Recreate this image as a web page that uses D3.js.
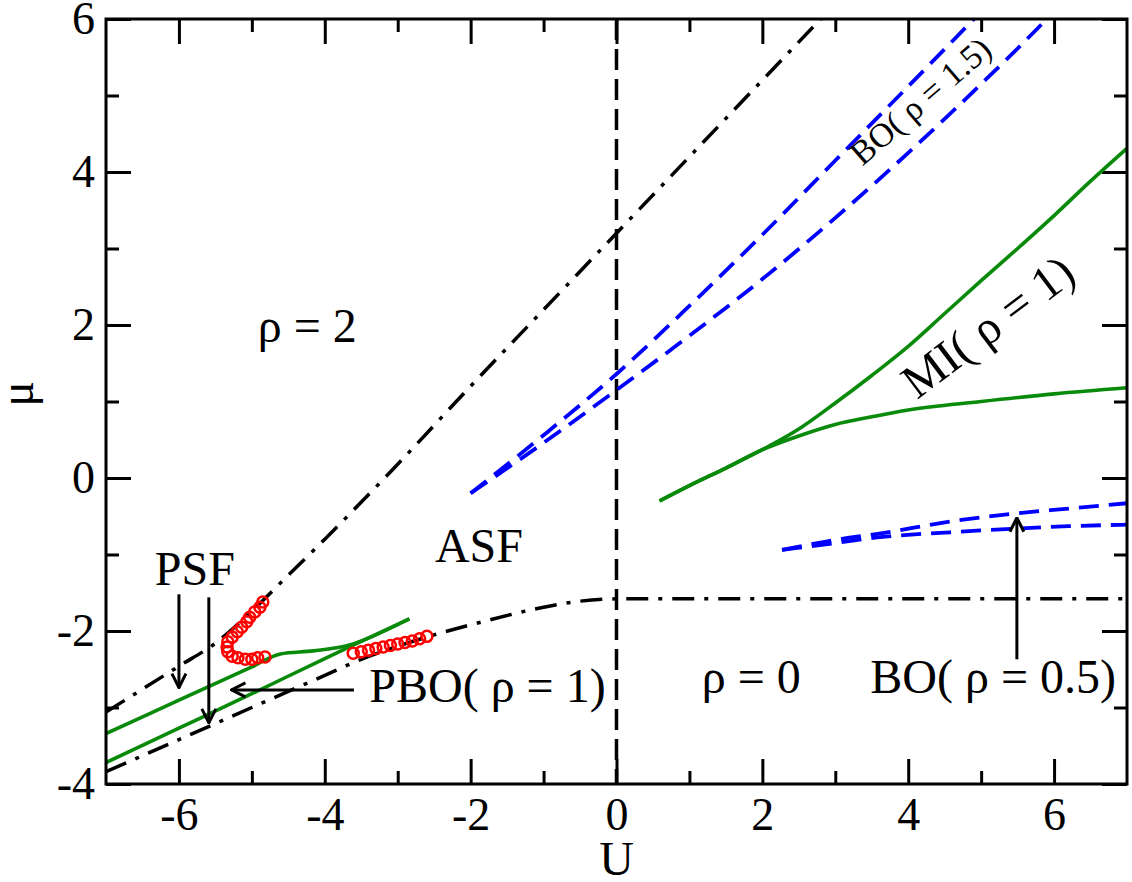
<!DOCTYPE html>
<html>
<head>
<script src="https://cdn.jsdelivr.net/npm/d3@7"></script>
<style>
    body{
        margin:0;
        background:white;
    }
    text{
        font-family:"Liberation Serif","Times New Roman",Times,serif;
    }
</style>
</head>
<body>
<div id="chart"></div>
<script>

    // tick values
    var uMajor = [-6,-4,-2,0,2,4,6]
    var uMinor = [-5,-3,-1,1,3,5]
    var muMajor = [-4,-2,0,2,4,6]
    var muMinor = [-3,-1,1,3,5]

    // black dash-dot phase boundaries (rho=2 above, rho=0 below)
    var upperBoundary = [[-7,-3.06],[-6.5,-2.76],[-6,-2.46],[-5.5,-2.16],[-5,-1.74],[-4.5,-1.27],[-4,-0.8],[-3,0.18],[-2,1.2],[-1,2.2],[0,3.2],[1,4.2],[2,5.2],[3,6.2]]
    var lowerBoundary = [[-7,-3.84],[-6,-3.42],[-5,-3.0],[-4,-2.58],[-3.5,-2.37],[-3,-2.2],[-2.5,-2.05],[-2,-1.92],[-1,-1.69],[-0.5,-1.61],[0,-1.58],[7,-1.58]]
    var verticalU = 0

    // BO(rho=1.5) blue dashed
    var bo15Upper = [[-2,-0.2],[-1,0.56],[0,1.36],[1,2.25],[2,3.18],[3,4.15],[4,5.12],[4.9,6.0],[5.2,6.3]]
    var bo15Lower = [[-2,-0.2],[-1,0.46],[0,1.15],[1,1.86],[2,2.6],[3,3.4],[4,4.25],[5,5.15],[5.9,6.0],[6.2,6.3]]

    // MI(rho=1) green
    var miUpper = [[0.59,-0.3],[1,-0.1],[1.5,0.13],[2,0.37],[2.5,0.64],[3,0.98],[3.5,1.34],[4,1.72],[4.5,2.15],[5,2.58],[5.5,3.0],[6,3.43],[6.5,3.88],[7,4.31]]
    var miLower = [[0.59,-0.3],[1,-0.1],[1.5,0.13],[2,0.37],[2.5,0.55],[3,0.7],[3.5,0.8],[4,0.89],[5,1.0],[6,1.1],[7,1.18]]

    // BO(rho=0.5) blue dashed
    var bo05Upper = [[2.27,-0.94],[3,-0.81],[3.65,-0.72],[4.57,-0.57],[5.5,-0.46],[6.2,-0.4],[7,-0.33]]
    var bo05Lower = [[2.27,-0.94],[3,-0.85],[3.65,-0.77],[4.57,-0.71],[5.5,-0.66],[6.2,-0.63],[7,-0.61]]

    // PBO(rho=1) green, lower left
    var pboUpper = [[-7,-3.34],[-6,-2.905],[-5,-2.47],[-4.61,-2.3],[-4.16,-2.26],[-3.65,-2.18],[-3.42,-2.1],[-2.84,-1.84]]
    var pboLower = [[-7,-3.72],[-6,-3.27],[-5,-2.82],[-4,-2.36],[-3.42,-2.1],[-2.84,-1.84]]

    // red open circles
    var psfPoints = [[-4.85,-1.62],[-4.89,-1.69],[-4.96,-1.75],[-5.03,-1.82],[-5.07,-1.88],[-5.14,-1.95],[-5.2,-2.01],[-5.27,-2.08],[-5.33,-2.14],[-5.34,-2.21],[-5.33,-2.27],[-5.27,-2.33],[-5.19,-2.35],[-5.09,-2.37],[-5.0,-2.37],[-4.92,-2.35],[-4.82,-2.34]]
    var pboPoints = [[-3.61,-2.29],[-3.5,-2.27],[-3.4,-2.25],[-3.3,-2.23],[-3.2,-2.21],[-3.1,-2.19],[-3.0,-2.17],[-2.9,-2.15],[-2.8,-2.13],[-2.7,-2.1],[-2.6,-2.07]]

    // arrows [U1, mu1, U2, mu2] (tip at second point)
    var arrows = [[-6.0,-1.52,-6.0,-2.74],[-5.59,-1.56,-5.59,-3.2],[-3.6,-2.77,-5.28,-2.77],[5.49,-2.37,5.49,-0.52]]

    var width = 1132, height = 882
    var margin = {left:106, top:19, right:5, bottom:98}
    var w = width - margin.left - margin.right
    var h = height - margin.top - margin.bottom

    var xScale = d3.scaleLinear().domain([-7,7]).range([0,w])
    var yScale = d3.scaleLinear().domain([-4,6]).range([h,0])

    var svg = d3.select("#chart")
        .append("svg")
        .attr("width",width)
        .attr("height",height)
        .append("g")
        .attr("transform","translate("+margin.left+","+margin.top+")")

    var defs = svg.append("defs")
    defs.append("clipPath").attr("id","plotclip")
        .append("rect").attr("x",0).attr("y",0).attr("width",w).attr("height",h)

    defs.append("marker")
        .attr("id","head")
        .attr("markerUnits","userSpaceOnUse")
        .attr("viewBox","0 0 16 18")
        .attr("refX",15).attr("refY",9)
        .attr("markerWidth",16).attr("markerHeight",18)
        .attr("orient","auto")
        .append("path")
        .attr("d","M1,2 L15,9 L1,16")
        .attr("fill","none")
        .attr("stroke","black")
        .attr("stroke-width",3)

    var fmt = function(d){ return d < 0 ? "-" + Math.abs(d) : "" + d }

    // ticks, all pointing inward
    function tickStyle(g){
        g.select(".domain").remove()
        g.attr("font-family",null)
        g.selectAll(".tick line").attr("stroke","black").attr("stroke-width",3)
        g.selectAll(".tick text").attr("font-size",46).attr("fill","black")
    }
    svg.append("g").attr("transform","translate(0,"+h+")")
        .call(d3.axisBottom(xScale).tickValues(uMajor).tickSize(-25).tickPadding(13).tickFormat(fmt)).call(tickStyle)
    svg.append("g").attr("transform","translate(0,"+h+")")
        .call(d3.axisBottom(xScale).tickValues(uMinor).tickSize(-13).tickFormat("")).call(tickStyle)
    svg.append("g")
        .call(d3.axisTop(xScale).tickValues(uMajor).tickSize(-25).tickFormat("")).call(tickStyle)
    svg.append("g")
        .call(d3.axisTop(xScale).tickValues(uMinor).tickSize(-13).tickFormat("")).call(tickStyle)
    svg.append("g")
        .call(d3.axisLeft(yScale).tickValues(muMajor).tickSize(-25).tickPadding(11).tickFormat(fmt)).call(tickStyle)
    svg.append("g")
        .call(d3.axisLeft(yScale).tickValues(muMinor).tickSize(-13).tickFormat("")).call(tickStyle)
    svg.append("g").attr("transform","translate("+w+",0)")
        .call(d3.axisRight(yScale).tickValues(muMajor).tickSize(-25).tickFormat("")).call(tickStyle)
    svg.append("g").attr("transform","translate("+w+",0)")
        .call(d3.axisRight(yScale).tickValues(muMinor).tickSize(-13).tickFormat("")).call(tickStyle)

    var plot = svg.append("g").attr("clip-path","url(#plotclip)")

    var line = d3.line()
        .x(function(d){ return xScale(d[0]) })
        .y(function(d){ return yScale(d[1]) })
        .curve(d3.curveMonotoneX)

    function drawLine(data,color,dash,sw){
        plot.append("path")
            .attr("d",line(data))
            .attr("fill","none")
            .attr("stroke",color)
            .attr("stroke-width",sw)
            .attr("stroke-dasharray",dash)
    }

    var dashDot = "22,10,4,10"
    drawLine(upperBoundary,"black",dashDot,3.5)
    drawLine(lowerBoundary,"black",dashDot,3.5)
    plot.append("line")
        .attr("x1",xScale(verticalU)).attr("x2",xScale(verticalU))
        .attr("y1",0).attr("y2",h)
        .attr("stroke","black").attr("stroke-width",3.5)
        .attr("stroke-dasharray","21,9")

    var green = "#0a8a0a"
    var blue = "#0000ff"
    drawLine(bo15Upper,blue,"20,10",3.8)
    drawLine(bo15Lower,blue,"20,10",3.8)
    drawLine(bo05Upper,blue,"20,10",3.8)
    drawLine(bo05Lower,blue,"20,10",3.8)
    drawLine(miUpper,green,null,3.6)
    drawLine(miLower,green,null,3.6)
    drawLine(pboUpper,green,null,3.6)
    drawLine(pboLower,green,null,3.6)

    plot.selectAll(".red")
        .data(psfPoints.concat(pboPoints))
        .enter().append("circle")
        .attr("cx",function(d){ return xScale(d[0]) })
        .attr("cy",function(d){ return yScale(d[1]) })
        .attr("r",5.5)
        .attr("fill","none")
        .attr("stroke","#ff0000")
        .attr("stroke-width",2.5)

    svg.selectAll(".arrow")
        .data(arrows)
        .enter().append("line")
        .attr("x1",function(d){ return xScale(d[0]) })
        .attr("y1",function(d){ return yScale(d[1]) })
        .attr("x2",function(d){ return xScale(d[2]) })
        .attr("y2",function(d){ return yScale(d[3]) })
        .attr("stroke","black")
        .attr("stroke-width",3)
        .attr("marker-end","url(#head)")

    // frame
    svg.append("rect")
        .attr("width",w).attr("height",h)
        .attr("fill","none").attr("stroke","black").attr("stroke-width",3)

    function label(txt,u,mu,size,angle){
        svg.append("text")
            .attr("transform","translate("+xScale(u)+","+yScale(mu)+")"+(angle ? " rotate("+angle+")" : ""))
            .attr("font-size",size)
            .attr("fill","black")
            .style("white-space","pre")
            .text(txt)
    }
    label("ρ = 2",-4.92,1.78,48)
    label("ASF",-2.49,-1.1,48)
    label("PSF",-6.33,-1.4,48)
    label("PBO( ρ = 1)",-3.39,-2.93,48)
    label("ρ = 0",1.17,-2.81,48)
    label("BO( ρ = 0.5)",3.48,-2.81,48)
    label("MI( ρ = 1)",4.12,1.02,48,-37)
    label("BO( ρ = 1.5)",3.37,4.07,34,-41)

    // axis titles
    svg.append("text")
        .attr("x",w/2).attr("y",h+91)
        .attr("text-anchor","middle")
        .attr("font-size",48)
        .text("U")
    svg.append("text")
        .attr("transform","translate(-73,"+(yScale(0)-84)+") rotate(-90)")
        .attr("text-anchor","middle")
        .attr("font-size",48)
        .text("μ")

</script>
</body>
</html>
